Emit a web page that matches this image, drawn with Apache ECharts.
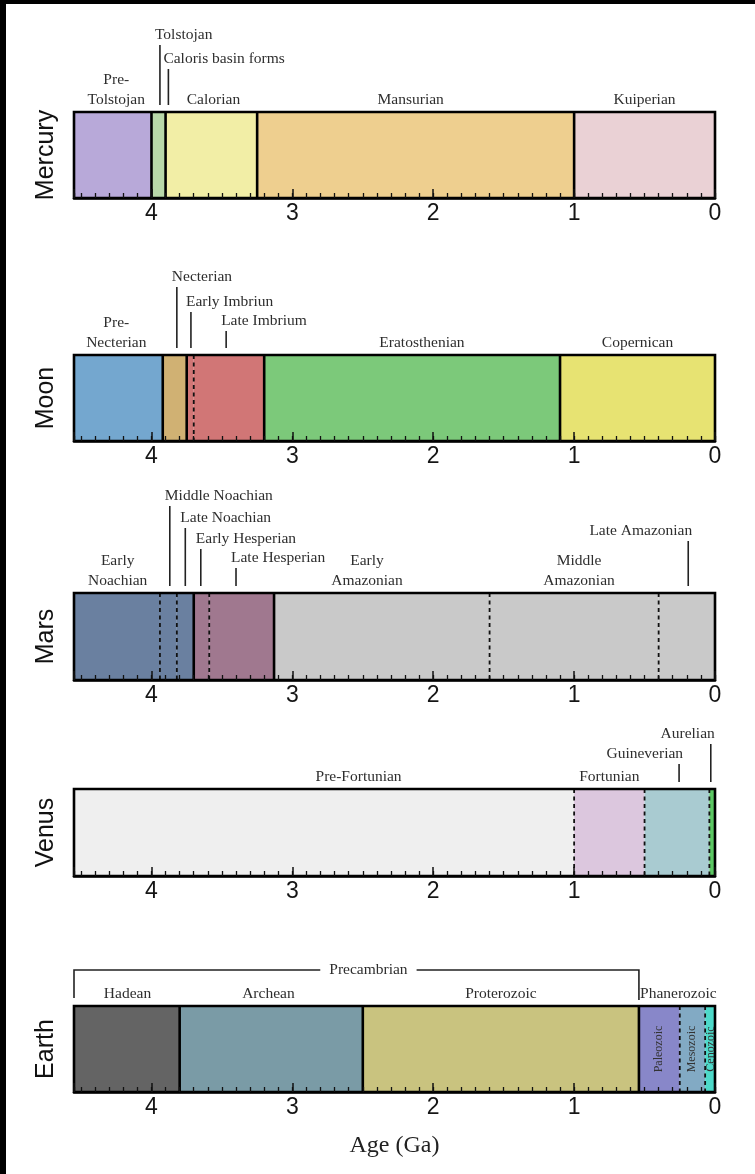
<!DOCTYPE html>
<html><head><meta charset="utf-8">
<script src="https://cdn.jsdelivr.net/npm/echarts@6/dist/echarts.min.js"></script>
<style>html,body{margin:0;padding:0;background:#fff}#main{width:755px;height:1174px}</style>
</head><body><div id="main"></div>
<script>
// ================= DATA (ages in Ga) =================
const planets = ['Mercury', 'Moon', 'Mars', 'Venus', 'Earth'];
const axisMin = 0, axisMax = 4.55;
const axisTitle = 'Age (Ga)';

// Mercury
const mercuryBounds = [4.55, 4.0, 3.9, 3.25, 1.0, 0];
const mercuryTitles = ['Pre-\nTolstojan', 'Calorian', 'Mansurian', 'Kuiperian'];
const mercuryTitleAt = [4.25, 3.56, 2.16, 0.5];
const mercuryNotes = ['Tolstojan', 'Caloris basin forms'];
const mercuryNoteAt = [3.94, 3.88];

// Moon
const moonBounds = [4.55, 3.92, 3.75, 3.70, 3.2, 1.1, 0];
const moonTitles = ['Pre-\nNecterian', 'Eratosthenian', 'Copernican'];
const moonTitleAt = [4.25, 2.08, 0.55];
const moonNotes = ['Necterian', 'Early Imbriun', 'Late Imbrium'];
const moonNoteAt = [3.82, 3.72, 3.47];

// Mars
const marsBounds = [4.55, 3.94, 3.82, 3.70, 3.59, 3.13, 1.6, 0.4, 0];
const marsTitles = ['Early\nNoachian', 'Early\nAmazonian', 'Middle\nAmazonian'];
const marsTitleAt = [4.24, 2.47, 0.965];
const marsNotes = ['Middle Noachian', 'Late Noachian', 'Early Hesperian', 'Late Hesperian', 'Late Amazonian'];
const marsNoteAt = [3.87, 3.76, 3.65, 3.40, 0.19];

// Venus
const venusBounds = [4.55, 1.0, 0.5, 0.04, 0];
const venusTitles = ['Pre-Fortunian', 'Fortunian'];
const venusTitleAt = [2.53, 0.75];
const venusNotes = ['Guineverian', 'Aurelian'];
const venusNoteAt = [0.255, 0.03];

// Earth
const earthBounds = [4.55, 3.8, 2.5, 0.54, 0.25, 0.07, 0];
const earthTitles = ['Hadean', 'Archean', 'Proterozoic', 'Phanerozoic'];
const earthTitleAt = [4.17, 3.17, 1.52, 0.26];
const earthInner = ['Paleozoic', 'Mesozoic', 'Cenozoic'];
const earthInnerAt = [0.397, 0.163, 0.03];
const earthSuper = ['Precambrian'];
const earthSuperSpan = [4.55, 0.54];
const earthSuperAt = [2.46];

// ================= STYLE / LAYOUT =================
const fills = [
  ['#b8a9d9', '#b9d8a9', '#f2eea6', '#eecf8f', '#ead1d5'],
  ['#74a7cf', '#d0b173', '#d17676', '#d17676', '#7cc97a', '#e7e372'],
  ['#6a80a0', '#6a80a0', '#6a80a0', '#a0788f', '#a0788f', '#c9c9c9', '#c9c9c9', '#c9c9c9'],
  ['#efefef', '#dcc7de', '#a9cbd1', '#5cc864'],
  ['#646464', '#7a9ba6', '#c9c37f', '#8887c9', '#82aac4', '#4dd9c9']
];
const dashedBoundary = [
  [false, false, false, false],
  [false, false, true, false, false],
  [true, true, false, true, false, true, true],
  [true, true, true],
  [false, false, false, true, true]
];
const noteLevels = [[77, 53], [78, 53, 34], [97, 75, 54, 35, 62], [35, 55], []];
const noteAlign = [['left', 'left'], ['left', 'left', 'left'], ['left', 'left', 'left', 'left', 'right'], ['right', 'right'], []];
const gridTops = [112, 355, 593, 789, 1006];
const gridHeights = [86, 86, 87, 87, 86];
const GRID_LEFT = 74, GRID_RIGHT = 40;
const SERIF = "'Liberation Serif','Times New Roman',serif";
const SANS = "'Liberation Sans',Arial,sans-serif";
const LABEL_FONT = '15.5px ' + SERIF;
const TEXT_COLOR = '#2e2e2e';

const allBounds = [mercuryBounds, moonBounds, marsBounds, venusBounds, earthBounds];
const allTitles = [mercuryTitles, moonTitles, marsTitles, venusTitles, earthTitles];
const allTitleAt = [mercuryTitleAt, moonTitleAt, marsTitleAt, venusTitleAt, earthTitleAt];
const allNotes = [mercuryNotes, moonNotes, marsNotes, venusNotes, []];
const allNoteAt = [mercuryNoteAt, moonNoteAt, marsNoteAt, venusNoteAt, []];

const chart = echarts.init(document.getElementById('main'), null, {renderer: 'canvas'});

const grids = [], xAxes = [], yAxes = [], series = [];
function isInt(v) { return Math.abs(v - Math.round(v)) < 1e-6; }

for (let k = 0; k < 2; k++) {
  planets.forEach((p, i) => {
    grids.push({left: GRID_LEFT, right: GRID_RIGHT, top: gridTops[i], height: gridHeights[i],
      containLabel: false, outerBoundsMode: 'none'});
  });
}
planets.forEach((p, i) => {
  // minor ticks (0.1 Ga)
  xAxes.push({gridIndex: i, type: 'value', min: axisMin, max: axisMax, inverse: true, interval: 0.1, z: 10,
    axisLine: {show: true, onZero: false, lineStyle: {color: '#000', width: 2.5}},
    axisTick: {show: true, inside: true, length: 5, lineStyle: {color: '#111', width: 1.3}},
    axisLabel: {show: false}, splitLine: {show: false}});
  yAxes.push({gridIndex: i, type: 'value', min: 0, max: 1, show: true,
    axisLine: {show: false}, axisTick: {show: false}, axisLabel: {show: false}, splitLine: {show: false},
    name: p, nameLocation: 'middle', nameRotate: 90, nameGap: 15,
    nameTextStyle: {fontSize: 25, fontFamily: SANS, color: '#111'}});
});
planets.forEach((p, i) => {
  // major ticks (1 Ga) with labels
  const ax = {gridIndex: 5 + i, type: 'value', min: axisMin, max: axisMax, inverse: true, interval: 1, z: 11,
    axisLine: {show: false},
    axisTick: {show: true, inside: true, length: 9, lineStyle: {color: '#111', width: 1.5}},
    axisLabel: {show: true, margin: 4, fontSize: 23, fontFamily: SANS, color: '#151515',
      formatter: v => isInt(v) ? String(Math.round(v)) : ''},
    splitLine: {show: false}};
  if (i === 4) {
    ax.name = axisTitle; ax.nameLocation = 'middle'; ax.nameGap = 42;
    ax.nameTextStyle = {fontSize: 24, fontFamily: SERIF, color: '#222'};
  }
  xAxes.push(ax);
  yAxes.push({gridIndex: 5 + i, type: 'value', min: 0, max: 1, show: false});
});

planets.forEach((p, i) => {
  const b = allBounds[i];
  const intervals = [];
  for (let j = 0; j < b.length - 1; j++) intervals.push([b[j], b[j + 1]]);
  // bars
  series.push({type: 'custom', xAxisIndex: i, yAxisIndex: i, z: 2, clip: false, silent: true,
    data: intervals,
    renderItem: (params, api) => {
      const a = api.coord([api.value(0), 1]);
      const c = api.coord([api.value(1), 0]);
      return {type: 'rect', shape: {x: Math.min(a[0], c[0]), y: a[1], width: Math.abs(c[0] - a[0]), height: c[1] - a[1]},
        style: {fill: fills[i][params.dataIndex]}};
    }});
  // boundaries
  series.push({type: 'custom', xAxisIndex: i, yAxisIndex: i, z: 3, clip: false, silent: true,
    data: b.slice(1, b.length - 1).map(v => [v]),
    renderItem: (params, api) => {
      const a = api.coord([api.value(0), 1]);
      const c = api.coord([api.value(0), 0]);
      const dashed = dashedBoundary[i][params.dataIndex];
      return {type: 'line', shape: {x1: a[0], y1: a[1], x2: c[0], y2: c[1]},
        style: dashed ? {stroke: '#111', lineWidth: 1.8, lineDash: [4, 3.5]} : {stroke: '#000', lineWidth: 2.6}};
    }});
  // frame
  series.push({type: 'custom', xAxisIndex: i, yAxisIndex: i, z: 4, clip: false, silent: true,
    data: [[b[0], b[b.length - 1]]],
    renderItem: (params, api) => {
      const a = api.coord([api.value(0), 1]);
      const c = api.coord([api.value(1), 0]);
      return {type: 'rect', shape: {x: a[0], y: a[1], width: c[0] - a[0], height: c[1] - a[1]},
        style: {fill: 'none', stroke: '#000', lineWidth: 2.6}};
    }});
  // centred titles
  series.push({type: 'custom', xAxisIndex: i, yAxisIndex: i, z: 5, clip: false, silent: true,
    data: allTitleAt[i].map(v => [v]),
    renderItem: (params, api) => {
      const a = api.coord([api.value(0), 1]);
      const txt = allTitles[i][params.dataIndex];
      const n = txt.split('\n').length;
      return {type: 'text', x: a[0], y: a[1] - 12 - (n - 1) * 10,
        style: {text: txt, font: LABEL_FONT, fill: TEXT_COLOR, lineHeight: 20,
          align: 'center', verticalAlign: 'middle', textAlign: 'center', textVerticalAlign: 'middle'}};
    }});
  // leader notes
  if (allNotes[i].length) {
    series.push({type: 'custom', xAxisIndex: i, yAxisIndex: i, z: 5, clip: false, silent: true,
      data: allNoteAt[i].map(v => [v]),
      renderItem: (params, api) => {
        const j = params.dataIndex;
        const a = api.coord([api.value(0), 1]);
        const ty = a[1] - noteLevels[i][j];
        const right = noteAlign[i][j] === 'right';
        return {type: 'group', children: [
          {type: 'text', x: right ? a[0] + 4 : a[0] - 5, y: ty,
            style: {text: allNotes[i][j], font: LABEL_FONT, fill: TEXT_COLOR,
              align: right ? 'right' : 'left', verticalAlign: 'middle',
              textAlign: right ? 'right' : 'left', textVerticalAlign: 'middle'}},
          {type: 'line', shape: {x1: a[0], y1: ty + 10, x2: a[0], y2: a[1] - 7},
            style: {stroke: '#222', lineWidth: 1.6}}
        ]};
      }});
  }
});

// Earth: inner vertical labels
series.push({type: 'custom', xAxisIndex: 4, yAxisIndex: 4, z: 6, clip: false, silent: true,
  data: earthInnerAt.map(v => [v, 0.5]),
  renderItem: (params, api) => {
    const a = api.coord([api.value(0), api.value(1)]);
    return {type: 'text', x: a[0], y: a[1], rotation: Math.PI / 2,
      style: {text: earthInner[params.dataIndex], font: '12px ' + SERIF, fill: '#333',
        align: 'center', verticalAlign: 'middle', textAlign: 'center', textVerticalAlign: 'middle'}};
  }});
// Earth: Precambrian bracket
series.push({type: 'custom', xAxisIndex: 4, yAxisIndex: 4, z: 6, clip: false, silent: true,
  data: [[earthSuperSpan[0], earthSuperSpan[1], earthSuperAt[0]]],
  renderItem: (params, api) => {
    const a = api.coord([api.value(0), 1]);
    const c = api.coord([api.value(1), 1]);
    const m = api.coord([api.value(2), 1]);
    const top = a[1];
    const yb = top - 36;
    return {type: 'group', children: [
      {type: 'polyline', shape: {points: [[a[0], top - 8], [a[0], yb], [c[0], yb], [c[0], top - 6]]},
        style: {fill: 'none', stroke: '#222', lineWidth: 1.6}},
      {type: 'text', x: m[0], y: yb,
        style: {text: earthSuper[0], font: LABEL_FONT, fill: TEXT_COLOR, backgroundColor: '#fff', padding: [2, 9],
          align: 'center', verticalAlign: 'middle', textAlign: 'center', textVerticalAlign: 'middle'}}
    ]};
  }});

chart.setOption({
  backgroundColor: '#fff',
  animation: false,
  grid: grids, xAxis: xAxes, yAxis: yAxes, series: series,
  graphic: [
    {type: 'rect', left: 0, top: 0, shape: {width: 6, height: 1174}, style: {fill: '#000'}, z: 100},
    {type: 'rect', left: 0, top: 0, shape: {width: 755, height: 4}, style: {fill: '#000'}, z: 100}
  ]
});
</script></body></html>
